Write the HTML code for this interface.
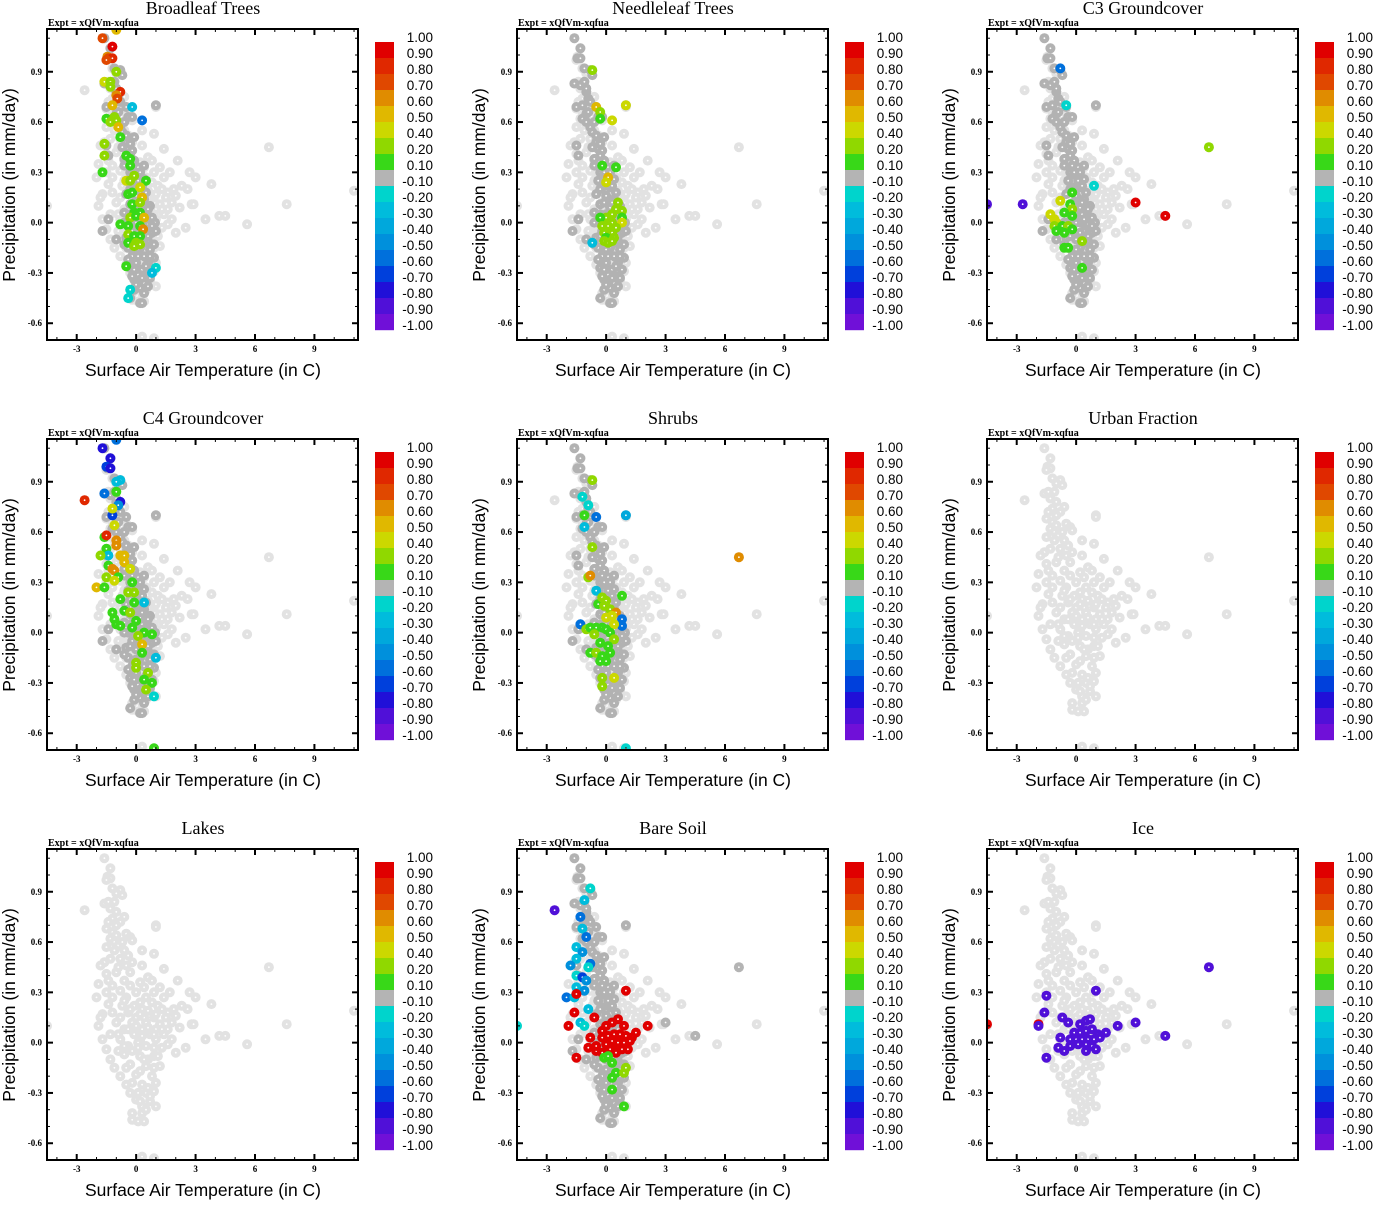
<!DOCTYPE html>
<html><head><meta charset="utf-8"><title>Correlation scatter panels</title>
<style>
html,body{margin:0;padding:0;background:#fff;}
svg text{font-family:"Liberation Sans",sans-serif;}
.serif{font-family:"Liberation Serif",serif;}
</style></head>
<body>
<svg id="chart" xmlns="http://www.w3.org/2000/svg" width="1373" height="1200" viewBox="0 0 1373 1200"></svg>
<script>
// ---------- shared data ----------
const panelTitles = ["Broadleaf Trees","Needleleaf Trees","C3 Groundcover","C4 Groundcover","Shrubs","Urban Fraction","Lakes","Bare Soil","Ice"];
const xTicks = [-3,0,3,6,9];
const yTicks = [-0.6,-0.3,0.0,0.3,0.6,0.9];
const yTickLabels = ["-0.6","-0.3","0.0","0.3","0.6","0.9"];
const cbEdges = [1.0,0.9,0.8,0.7,0.6,0.5,0.4,0.2,0.1,-0.1,-0.2,-0.3,-0.4,-0.5,-0.6,-0.7,-0.8,-0.9,-1.0];
const cbLabels = ["1.00","0.90","0.80","0.70","0.60","0.50","0.40","0.20","0.10","-0.10","-0.20","-0.30","-0.40","-0.50","-0.60","-0.70","-0.80","-0.90","-1.00"];
const cbColors = ["#e00000","#e02800","#e04800","#e08c00","#e0b800","#ccd800","#90d800","#38d818","#b4b4b4","#00d4cc","#00bcdc","#00a8dc","#0090dc","#0070dc","#0040dc","#2010d8","#5010d8","#7010d8"];

// light gray background cloud (temperature, precipitation)
const bgTemp = [-1.6,-1.3,-1.45,-1.3,-1.5,-0.8,-1.0,-0.7,-1.6,-1.4,-1.1,-1.3,-2.6,-1.0,-1.2,-0.8,-1.4,-1.0,-1.5,-0.5,-0.3,-1.2,-1.0,-0.2,1.0,1.0,-1.3,-1.1,-0.9,-1.5,-0.6,-0.4,-1.3,-1.6,-0.8,0.9,-1.8,-0.5,0.3,1.4,-1.5,-1.0,-0.3,0.6,-1.4,-0.6,0.2,0.8,2.1,-1.2,-0.3,0.4,1.2,-1.5,-0.8,0.0,0.9,2.7,-2.0,-1.2,-0.5,0.5,1.4,3.0,-1.4,-0.7,0.2,1.1,2.3,3.8,-1.2,-0.4,0.6,1.6,2.6,1.9,-1.7,0.0,0.9,1.5,2.0,-1.0,-0.2,0.5,1.2,1.8,2.8,2.9,-1.9,-4.5,7.6,11.0,-0.6,0.3,1.0,1.6,2.2,-1.3,-0.1,0.7,1.4,4.2,4.5,-1.7,-0.8,0.2,1.0,1.8,3.5,-1.5,-0.4,0.5,1.3,2.0,5.6,-1.3,-0.6,0.2,0.9,2.5,-1.1,-0.3,0.5,1.2,-0.8,0.0,0.8,-0.5,0.3,1.0,-0.3,0.5,0.9,0.0,0.7,0.3,1.0,-0.2,0.3,-0.2,0.1,0.4,0.3,0.9,6.7,-0.1,0.1,-0.2,0.4,0.6,0.0,
 -0.6,-0.3,0.3,0.8,1.3,-0.8,0.2,1.0,-0.4,0.6,1.3,-0.9,0.3,0.9,-0.6,0.1,0.9,1.6,-0.9,0.4,1.1,-0.5,0.2,0.9,-0.2,0.6,0.1,0.7,0.2,0.5,-1.1,-0.7,-0.6,-1.2,-0.9,-0.2,0.3,-1.9,-1.8,1.7];
const bgPrecip = [1.1,1.04,0.99,0.98,0.97,0.91,0.89,0.88,0.83,0.84,0.84,0.80,0.79,0.78,0.74,0.72,0.72,0.70,0.68,0.65,0.63,0.66,0.64,0.61,0.70,0.69,0.62,0.60,0.58,0.57,0.55,0.52,0.50,0.48,0.50,0.53,0.46,0.46,0.46,0.44,0.41,0.42,0.42,0.39,0.37,0.37,0.36,0.37,0.37,0.34,0.34,0.33,0.33,0.30,0.31,0.30,0.30,0.30,0.27,0.27,0.27,0.27,0.27,0.27,0.23,0.22,0.24,0.22,0.22,0.23,0.18,0.18,0.19,0.18,0.20,0.20,0.17,0.15,0.15,0.15,0.16,0.12,0.12,0.12,0.11,0.12,0.11,0.11,0.10,0.10,0.11,0.19,0.08,0.08,0.08,0.08,0.09,0.05,0.05,0.05,0.05,0.04,0.04,0.02,0.02,0.01,0.02,0.02,0.02,-0.04,-0.02,-0.02,-0.03,-0.06,-0.01,-0.10,-0.07,-0.08,-0.08,-0.03,-0.15,-0.13,-0.14,-0.14,-0.20,-0.19,-0.20,-0.25,-0.25,-0.24,-0.30,-0.30,-0.29,-0.34,-0.35,-0.38,-0.38,-0.42,-0.42,-0.46,-0.47,-0.47,-0.68,-0.69,0.45,0.22,0.0,-0.05,0.15,-0.10,0.10,
 0.25,0.20,0.20,0.24,0.20,0.15,0.17,0.17,0.08,0.09,0.08,0.05,0.04,0.05,-0.02,-0.03,-0.03,-0.01,-0.05,-0.10,-0.08,-0.15,-0.17,-0.15,-0.24,-0.27,-0.30,-0.32,-0.35,-0.40,0.55,0.60,0.75,0.92,0.45,0.48,0.55,0.35,0.15,0.30];

// dark gray core (land points with |corr| < 0.1)
const coreTemp = [-1.6,-1.3,-1.45,-1.3,-0.8,-0.7,-1.6,-1.3,-1.1,-1.0,-0.9,-0.8,-1.5,-1.2,-0.5,1.0,-1.0,-0.4,-0.2,-1.2,-1.0,-0.8,-0.7,-0.5,-0.1,-0.5,-1.5,-0.4,-0.2,-1.4,-0.3,-0.1,-0.6,-0.2,0.1,0.4,-0.3,0.0,0.2,-0.4,0.1,0.4,-0.2,0.2,0.5,-0.5,0.0,0.4,0.7,-0.3,0.2,-0.6,0.0,0.5,0.8,-0.4,0.2,0.6,-0.2,0.4,0.8,-0.5,0.0,0.6,-0.4,0.2,0.7,-0.2,0.4,0.9,0.0,0.6,-0.3,0.3,0.8,0.1,0.5,-0.1,0.4,0.2,-0.1,0.4,-0.3,0.2,0.3,-1.7,-1.0,-1.4,0.95,1.0,
 -0.1,0.3,-0.1,0.3,-0.3,0.3,0.6,-0.6,0.0,0.4,0.8,-0.3,0.2,0.6,-0.6,0.0,0.4,0.9,-0.4,0.1,0.7,-0.1,0.5,-0.2,0.3,0.7,0.0,0.6,-0.7,-0.3,-0.9,-0.6,-1.1,-1.0,-0.6,-0.3];
const corePrecip = [1.1,1.04,0.98,0.98,0.91,0.88,0.83,0.82,0.84,0.78,0.74,0.72,0.69,0.70,0.69,0.70,0.65,0.63,0.63,0.62,0.60,0.57,0.54,0.52,0.51,0.48,0.46,0.44,0.43,0.40,0.40,0.37,0.34,0.34,0.33,0.34,0.30,0.28,0.30,0.25,0.25,0.26,0.21,0.21,0.18,0.17,0.16,0.14,0.10,0.11,0.09,0.06,0.05,0.05,0.03,0.0,0.0,-0.01,-0.05,-0.05,-0.06,-0.09,-0.10,-0.11,-0.15,-0.15,-0.16,-0.20,-0.20,-0.21,-0.24,-0.24,-0.27,-0.28,-0.28,-0.31,-0.32,-0.34,-0.36,-0.39,-0.40,-0.42,-0.45,-0.48,-0.48,-0.05,-0.10,0.02,0.0,-0.05,
 0.30,0.22,0.12,0.12,0.05,0.05,0.08,0.0,0.0,0.02,-0.02,-0.08,-0.06,-0.08,-0.13,-0.16,-0.12,-0.13,-0.22,-0.20,-0.20,-0.28,-0.26,-0.32,-0.33,-0.33,-0.37,-0.38,0.45,0.47,0.66,0.60,0.92,0.80,0.38,0.20];
const showCore = [true,true,true,true,true,false,false,true,false];

// coloured points per panel: temperature, precipitation, correlation
const broadleafT = [-1.7,-1.2,-1.45,-1.4,-1.2,-1.5,-1.0,-1.6,-1.3,-1.3,-0.8,-1.0,-0.95,-1.2,-0.2,0.3,-1.5,-1.1,-1.3,-1.0,-0.9,-0.8,-1.6,-1.6,-0.5,-0.3,-1.7,-0.3,-0.1,-0.5,-0.3,0.5,-0.4,-0.2,0.2,0.3,-0.2,0.2,-0.1,0.2,-0.3,0.0,0.4,-0.8,-0.4,0.2,0.35,-0.4,-0.1,0.2,-0.4,0.0,0.2,-0.1,-0.5,1.0,0.8,-0.3,-0.4,-1.0];
const broadleafP = [1.1,1.05,0.99,0.98,0.98,0.97,0.90,0.84,0.84,0.81,0.78,0.76,0.74,0.70,0.69,0.61,0.62,0.63,0.60,0.61,0.57,0.51,0.47,0.40,0.40,0.38,0.30,0.34,0.28,0.25,0.25,0.25,0.17,0.18,0.21,0.15,0.11,0.12,0.06,0.06,0.03,0.04,0.03,-0.01,-0.02,-0.02,-0.04,-0.07,-0.08,-0.08,-0.12,-0.12,-0.13,-0.14,-0.26,-0.27,-0.30,-0.40,-0.45,1.15];
const broadleafV = [0.7,0.9,0.6,0.7,0.8,0.7,0.2,0.4,0.2,0.2,0.8,0.6,0.7,0.5,-0.3,-0.6,0.1,0.2,0.2,0.2,0.5,0.1,0.2,0.2,0.1,0.1,0.1,0.1,0.2,0.4,0.2,0.1,0.1,0.1,0.4,0.5,0.1,0.2,0.1,0.1,0.2,0.1,0.5,0.1,0.1,0.1,0.6,0.2,0.1,0.1,0.1,0.2,0.2,0.2,0.1,-0.2,-0.3,-0.2,-0.2,0.5];

const needleT = [-0.7,1.0,-0.5,-0.3,-0.3,0.3,-0.2,0.5,0.1,0.0,0.6,0.5,0.8,0.3,0.0,0.8,-0.3,0.3,0.8,-0.2,0.1,0.5,-0.1,0.3,0.0,0.4,-0.1,0.1,0.3,-0.7];
const needleP = [0.91,0.70,0.69,0.66,0.62,0.61,0.34,0.33,0.27,0.24,0.12,0.08,0.07,0.05,0.03,0.03,0.03,0.0,0.0,-0.02,-0.02,-0.03,-0.06,-0.06,-0.09,-0.09,-0.11,-0.12,-0.11,-0.12];
const needleV = [0.2,0.4,0.5,0.2,0.1,0.4,0.1,0.1,0.5,0.4,0.2,0.2,0.2,0.2,0.2,0.1,0.1,0.2,0.4,0.2,0.2,0.2,0.2,0.2,0.1,0.2,0.2,0.2,0.2,-0.3];

const c3T = [-0.8,-0.5,0.9,-4.5,-2.7,3.0,4.5,6.7,-0.2,-0.8,-0.3,-0.2,-0.6,-0.2,-1.3,-1.1,-1.0,-1.1,-0.7,-0.4,-0.2,-1.0,-0.6,0.3,-0.6,-0.4,0.3];
const c3P = [0.92,0.70,0.22,0.11,0.11,0.12,0.04,0.45,0.18,0.13,0.11,0.08,0.06,0.04,0.05,0.02,0.0,-0.02,-0.02,-0.02,-0.04,-0.05,-0.06,-0.11,-0.15,-0.15,-0.27];
const c3V = [-0.6,-0.2,-0.2,-0.9,-0.9,0.9,0.9,0.2,0.1,0.4,0.1,0.2,0.1,0.1,0.4,0.4,0.4,0.2,0.1,0.2,0.1,0.1,0.1,0.2,0.1,0.1,0.1];

const c4T = [-1.7,-1.3,-1.5,-1.3,-1.0,-0.8,-1.0,-1.6,-1.0,-0.8,-0.9,-1.2,-2.6,-1.2,-1.1,-1.6,-1.5,-1.0,-1.0,-1.5,-1.4,-1.8,-0.8,-0.6,-0.6,-1.4,-1.2,-1.1,-0.3,-1.5,-0.9,-1.1,-2.0,-1.6,-0.2,-0.4,-0.1,-0.8,-0.1,0.4,-1.2,-0.6,-0.3,-1.1,0.0,-1.0,-0.8,-0.2,0.4,0.8,0.1,0.3,0.3,1.0,0.0,0.0,0.6,0.4,0.8,0.5,0.9,0.9];
const c4P = [1.1,1.04,0.99,0.98,1.15,0.91,0.90,0.83,0.84,0.78,0.76,0.70,0.79,0.74,0.64,0.57,0.58,0.55,0.52,0.50,0.46,0.46,0.46,0.46,0.42,0.40,0.38,0.37,0.38,0.33,0.33,0.31,0.27,0.27,0.30,0.24,0.24,0.20,0.18,0.18,0.12,0.13,0.12,0.08,0.07,0.05,0.04,0.03,0.0,-0.01,-0.02,-0.07,-0.12,-0.15,-0.18,-0.21,-0.24,-0.28,-0.30,-0.34,-0.38,-0.69];
const c4V = [-0.8,-0.8,-0.7,-0.8,-0.6,-0.3,-0.3,-0.6,0.1,-0.8,-0.5,-0.7,0.8,0.4,0.4,0.1,0.8,0.6,0.6,0.1,-0.3,0.2,0.5,0.5,0.5,0.1,0.6,0.6,0.4,0.2,0.1,0.4,0.5,0.1,0.1,0.2,0.2,0.1,0.1,-0.3,0.1,0.1,0.2,0.1,0.1,0.1,0.1,0.1,0.1,0.1,0.2,0.5,0.1,-0.3,0.2,0.2,0.2,0.1,0.1,0.2,-0.2,0.1];

const shrubT = [-0.7,-1.2,-0.9,-1.1,-0.5,1.0,-1.1,-0.7,-0.9,-0.8,-0.5,0.8,-0.4,-0.2,0.0,-0.1,0.2,0.5,0.0,0.3,-1.3,0.8,0.8,0.4,-1.0,-0.8,-0.5,-0.2,0.0,0.2,-0.6,0.4,-0.3,0.1,-0.8,-0.5,-0.2,0.2,-0.3,0.0,-0.2,0.4,-0.2,6.7,1.0];
const shrubP = [0.91,0.81,0.76,0.70,0.69,0.70,0.63,0.51,0.33,0.34,0.25,0.22,0.17,0.21,0.19,0.16,0.14,0.12,0.09,0.10,0.05,0.08,0.04,0.05,0.02,0.03,0.03,0.03,0.02,0.0,-0.01,-0.04,-0.06,-0.08,-0.12,-0.12,-0.14,-0.12,-0.17,-0.17,-0.27,-0.27,-0.32,0.45,-0.69];
const shrubV = [0.2,-0.2,-0.2,0.1,-0.6,-0.4,-0.3,0.2,0.2,0.6,-0.3,0.1,0.1,0.2,0.2,0.2,0.2,0.6,0.4,0.4,-0.6,-0.6,-0.6,0.4,0.2,0.1,0.1,0.1,0.1,0.1,0.2,0.2,0.1,0.1,0.1,0.2,0.1,0.1,0.1,0.1,0.2,0.4,0.2,0.6,-0.2];

const soilT = [6.7,4.5,3.0,-2.6,-0.8,-1.1,-1.3,-1.2,-1.0,-1.5,-1.2,-1.5,-0.8,-1.8,-0.9,-1.5,-1.2,-1.0,-1.5,-1.1,-2.0,-1.6,-1.5,-0.9,-1.6,-1.3,-1.1,-4.5,-1.9,-0.6,1.0,2.1,-1.5,-0.8,-0.9,-0.5,-0.5,-0.2,0.0,0.3,0.6,0.9,1.5,-0.2,0.1,0.4,0.7,1.0,1.3,0.0,0.3,0.6,0.9,1.2,0.2,0.5,0.8,1.1,0.5,-0.2,-0.1,0.1,0.3,0.5,0.3,0.9,1.0,0.3,0.9];
const soilP = [0.45,0.04,0.12,0.79,0.92,0.85,0.75,0.68,0.63,0.57,0.54,0.50,0.47,0.46,0.45,0.40,0.39,0.37,0.33,0.31,0.27,0.27,0.29,0.20,0.18,0.12,0.10,0.10,0.10,0.15,0.31,0.10,-0.09,0.03,-0.03,-0.05,-0.02,0.07,0.10,0.12,0.14,0.10,0.06,0.03,0.04,0.05,0.05,0.04,0.03,-0.01,0.01,0.0,0.0,0.01,-0.04,-0.04,-0.04,-0.04,-0.06,-0.06,-0.09,-0.08,-0.12,-0.18,-0.21,-0.18,-0.15,-0.28,-0.38];
const soilV = [0,0,0,-0.9,-0.2,-0.3,-0.6,-0.3,-0.6,-0.3,-0.5,-0.3,-0.6,-0.5,-0.2,-0.2,-0.7,-0.5,-0.3,-0.5,-0.6,-0.3,0.9,-0.3,0.9,-0.3,-0.2,-0.2,0.9,0.9,0.9,0.9,0.9,0.9,0.9,0.9,0.9,0.9,0.9,0.9,0.9,0.9,0.9,0.9,0.9,0.9,0.9,0.9,0.9,0.9,0.9,0.9,0.9,0.9,0.9,0.9,0.9,0.9,0.9,0.9,0.1,0.1,0.1,0.1,0.1,0.2,0.2,0.1,0.1];

const iceT = [-4.5,-1.9,-1.9,-1.5,-1.6,1.0,-1.5,-0.7,-0.4,-0.8,-0.9,-0.6,2.1,3.0,4.5,6.7,0.2,0.5,0.7,-0.1,0.2,0.5,0.8,1.1,1.5,-0.3,0.0,0.3,0.6,0.9,1.2,0.1,0.5,0.8,0.5,1.0,-0.3];
const iceP = [0.11,0.11,0.10,0.28,0.18,0.31,-0.09,0.15,0.12,0.03,-0.03,-0.05,0.10,0.12,0.04,0.45,0.11,0.13,0.14,0.06,0.06,0.07,0.08,0.05,0.06,0.02,0.02,0.02,0.02,0.02,0.03,-0.01,-0.01,-0.02,-0.05,-0.04,-0.02];
const iceV = [0.9,0.9,-0.9,-0.9,-0.9,-0.9,-0.9,-0.9,-0.9,-0.9,-0.9,-0.9,-0.9,-0.9,-0.9,-0.9,-0.9,-0.9,-0.9,-0.9,-0.9,-0.9,-0.9,-0.9,-0.9,-0.9,-0.9,-0.9,-0.9,-0.9,-0.9,-0.9,-0.9,-0.9,-0.9,-0.9,-0.9];

const colT = [broadleafT,needleT,c3T,c4T,shrubT,[],[],soilT,iceT];
const colP = [broadleafP,needleP,c3P,c4P,shrubP,[],[],soilP,iceP];
const colV = [broadleafV,needleV,c3V,c4V,shrubV,[],[],soilV,iceV];

// ---------- drawing ----------
const NS = "http://www.w3.org/2000/svg";
const svg = document.getElementById("chart");
const PL = 47, PT = 29, PR = 358, PB = 340;
const X0 = -4.5, X1 = 11.2, Y0 = -0.70, Y1 = 1.155;
function xs(t){ return PL + (t - X0) / (X1 - X0) * (PR - PL); }
function ys(p){ return PB - (p - Y0) / (Y1 - Y0) * (PB - PT); }
function colorFor(v){
  for (let i = 0; i < cbColors.length; i++) {
    if (v <= cbEdges[i] && v >= cbEdges[i+1]) return cbColors[i];
  }
  return v > 0 ? cbColors[0] : cbColors[cbColors.length-1];
}
function mk(tag, attrs, parent){
  const e = document.createElementNS(NS, tag);
  for (const k in attrs) e.setAttribute(k, attrs[k]);
  parent.appendChild(e);
  return e;
}
function dot(g, t, p, fill){
  const c = mk("circle", {cx: xs(t).toFixed(1), cy: ys(p).toFixed(1), r: 5, fill: fill}, g);
  
  
  mk("circle", {cx: xs(t).toFixed(1), cy: ys(p).toFixed(1), r: 0.9, fill: "#fff"}, g);
}

for (let k = 0; k < 9; k++) {
  const ox = (k % 3) * 470, oy = Math.floor(k / 3) * 410;
  const g = mk("g", {transform: `translate(${ox},${oy})`}, svg);
  
  

  const title = mk("text", {x: 203, y: 14, "text-anchor": "middle", "font-size": 18, class: "serif"}, g);
  title.textContent = panelTitles[k];
  
  

  const ex = mk("text", {x: 48, y: 26, "font-size": 10, "font-weight": "bold", class: "serif"}, g);
  ex.textContent = "Expt = xQfVm-xqfua";
  
  

  const cp = mk("clipPath", {id: "clip" + k}, g);
  mk("rect", {x: PL, y: PT, width: PR - PL, height: PB - PT}, cp);
  const pts = mk("g", {"clip-path": `url(#clip${k})`}, g);
  
  

  for (let i = 0; i < bgTemp.length; i++) dot(pts, bgTemp[i], bgPrecip[i], "#e2e2e2");
  if (showCore[k]) for (let i = 0; i < coreTemp.length; i++) dot(pts, coreTemp[i], corePrecip[i], "#b2b2b2");
  const T = colT[k], P = colP[k], V = colV[k];
  for (let i = 0; i < T.length; i++) dot(pts, T[i], P[i], colorFor(V[i]));

  const fr = mk("rect", {x: PL, y: PT, width: PR - PL, height: PB - PT, fill: "none", stroke: "#000", "stroke-width": 2}, g);
  
  

  for (let t = -4; t <= 11; t++) {
    const major = xTicks.indexOf(t) >= 0;
    const L = major ? 6 : 3;
    mk("line", {x1: xs(t), x2: xs(t), y1: PB, y2: PB - L, stroke: "#000", "stroke-width": major ? 2 : 1}, g);
    mk("line", {x1: xs(t), x2: xs(t), y1: PT, y2: PT + L, stroke: "#000", "stroke-width": major ? 2 : 1}, g);
  }
  xTicks.forEach(t => {
    const tl = mk("text", {x: xs(t), y: 352, "text-anchor": "middle", "font-size": 9, "font-weight": "bold", class: "serif"}, g);
    tl.textContent = String(t);
    
    
  });
  for (let m = -6; m <= 11; m++) {
    const p = m / 10;
    const major = (m % 3 === 0);
    const L = major ? 6 : 3;
    mk("line", {x1: PL, x2: PL + L, y1: ys(p), y2: ys(p), stroke: "#000", "stroke-width": major ? 2 : 1}, g);
    mk("line", {x1: PR, x2: PR - L, y1: ys(p), y2: ys(p), stroke: "#000", "stroke-width": major ? 2 : 1}, g);
  }
  yTicks.forEach((p, i) => {
    const tl = mk("text", {x: 42, y: ys(p) + 3, "text-anchor": "end", "font-size": 9, "font-weight": "bold", class: "serif"}, g);
    tl.textContent = yTickLabels[i];
    
    
  });

  const xl = mk("text", {x: 203, y: 376, "text-anchor": "middle", "font-size": 17.5}, g);
  xl.textContent = "Surface Air Temperature (in C)";
  
  

  const yl = mk("text", {x: 0, y: 0, "text-anchor": "middle", "font-size": 17.5, transform: "translate(15,185) rotate(-90)"}, g);
  yl.textContent = "Precipitation (in mm/day)";
  
  

  const cb = mk("g", {}, g);
  
  
  for (let i = 0; i < cbColors.length; i++) {
    mk("rect", {x: 375, y: 42 + i * 16, width: 19, height: 16.2, fill: cbColors[i]}, cb);
  }
  cbLabels.forEach((s, i) => {
    const tl = mk("text", {x: 433, y: 42 + i * 16, "text-anchor": "end", "font-size": 13.5}, cb);
    tl.textContent = s;
    
    
  });
}
</script>
</body></html>
